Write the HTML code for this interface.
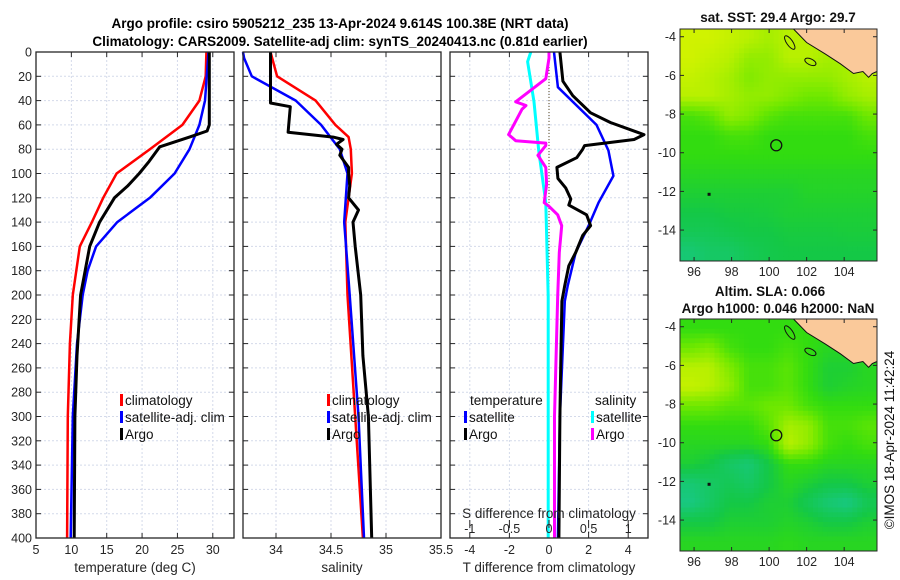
<!DOCTYPE html>
<html><head><meta charset="utf-8"><style>
html,body{margin:0;padding:0;background:#fff;}
svg{display:block;font-family:"Liberation Sans","DejaVu Sans",sans-serif;}
</style></head><body>
<svg id="fig" width="900" height="580" viewBox="0 0 900 580" xmlns="http://www.w3.org/2000/svg">
<rect width="900" height="580" fill="#fff"/>
<text x="340" y="28" text-anchor="middle" font-weight="bold" font-size="13.5">Argo profile: csiro 5905212_235 13-Apr-2024 9.614S 100.38E (NRT data)</text>
<text x="340" y="46" text-anchor="middle" font-weight="bold" font-size="13.5">Climatology: CARS2009. Satellite-adj clim: synTS_20240413.nc (0.81d earlier)</text>
<g id="plots"></g>
</svg>
<script>
// ---- profile data ----
const depthT_clim=[0,20,40,60,80,100,120,140,160,200,240,300,400];
const temp_clim=[29.1,29.0,28.1,25.7,21.1,16.4,14.5,12.9,11.2,10.2,9.8,9.5,9.4];
const depthT_sat=[0,40,60,80,100,120,140,160,180,200,240,300,400];
const temp_sat=[29.4,28.9,28.1,26.7,24.6,21.1,16.5,13.5,12.3,11.6,10.8,10.2,9.9];
const depthT_argo=[0,60,65,70,78,90,100,110,120,140,160,200,250,300,400];
const temp_argo=[29.5,29.5,29.2,26.7,22.5,21.0,19.6,18.0,16.1,14.0,12.6,11.3,10.8,10.5,10.4];
const depthS_clim=[0,20,40,60,70,80,100,140,200,300,400];
const sal_clim=[33.95,34.01,34.36,34.54,34.66,34.68,34.69,34.63,34.65,34.72,34.79];
const depthS_sat=[0,5,20,40,60,80,100,140,200,300,400];
const sal_sat=[33.70,33.71,33.78,34.18,34.41,34.58,34.65,34.62,34.67,34.75,34.80];
const depthS_argo=[0,42,45,66,70,72,76,80,85,90,95,100,110,120,130,140,160,200,250,300,400];
const sal_argo=[33.95,33.95,34.13,34.11,34.52,34.61,34.55,34.60,34.58,34.62,34.66,34.66,34.67,34.66,34.75,34.70,34.72,34.77,34.79,34.84,34.87];
const depthDT_sat=[0,29,60,81,102,124,143,165,192,205,300,400];
const dT_sat=[0.25,0.45,2.4,3.0,3.25,2.5,2.0,1.35,0.95,0.8,0.55,0.45];
const depthDT_argo=[0,24,36,50,58,68,72,77,80,87,95,104,112,121,126,134,143,151,165,176,192,205,250,300,400];
const dT_argo=[0.55,0.7,1.2,2.1,3.1,4.8,4.3,1.8,1.7,1.4,0.4,0.45,0.85,1.1,1.0,1.9,2.1,1.7,1.35,1.0,0.8,0.65,0.6,0.55,0.5];
const depthDS_sat=[0,8,41,81,124,201,400];
const dS_sat=[-0.23,-0.27,-0.19,-0.13,-0.04,-0.01,-0.01];
const depthDS_argo=[0,5,22,41,44,47,68,73,75,77,85,95,109,124,127,134,143,165,201,300,400];
const dS_argo=[0.0,0.0,-0.04,-0.42,-0.29,-0.34,-0.51,-0.42,-0.04,-0.04,-0.14,-0.04,-0.03,-0.06,0.0,0.11,0.16,0.13,0.11,0.07,0.07];
const depthTicks=[0,20,40,60,80,100,120,140,160,180,200,220,240,260,280,300,320,340,360,380,400];
const tempTicks=[5,10,15,20,25,30];
const salTicks=[34,34.5,35,35.5];
const dTTicks=[-4,-2,0,2,4];
const dSTicks=[-1,-0.5,0,0.5,1];
// ---- map data (rows lat -4..-15, cols lon) ----
const sstGrid=[
[.9,.9,.85,.8,.75,.8,.8,.8,.8,.8],
[.9,.85,.8,.7,.7,.8,.8,.75,.75,.8],
[.85,.8,.75,.65,.7,.7,.7,.7,.75,.8],
[.8,.8,.75,.7,.7,.65,.6,.6,.7,.75],
[.5,.55,.7,.65,.55,.5,.5,.5,.5,.6],
[.45,.45,.5,.5,.45,.45,.45,.45,.45,.5],
[.45,.45,.45,.45,.45,.45,.45,.45,.45,.45],
[.4,.4,.4,.4,.4,.4,.4,.4,.4,.4],
[.35,.35,.35,.35,.35,.35,.38,.38,.38,.38],
[.3,.3,.32,.32,.33,.35,.35,.35,.35,.35],
[.25,.25,.28,.3,.3,.32,.32,.32,.33,.33],
[.15,.2,.2,.25,.28,.3,.3,.3,.3,.3]];
const slaGrid=[
[.45,.45,.45,.45,.45,.45,.45,.45,.4,.4],
[.6,.65,.5,.45,.45,.5,.45,.4,.4,.4],
[.8,.8,.65,.5,.5,.55,.45,.35,.35,.4],
[.85,.8,.7,.5,.5,.55,.45,.35,.38,.4],
[.6,.6,.55,.55,.6,.6,.5,.45,.45,.45],
[.45,.45,.45,.45,.55,.75,.7,.5,.5,.55],
[.4,.4,.4,.4,.45,.8,.7,.5,.45,.5],
[.35,.3,.2,.15,.3,.45,.45,.4,.4,.4],
[.15,.2,.25,.2,.3,.4,.35,.3,.3,.35],
[.1,.2,.3,.3,.35,.35,.25,.15,.1,.25],
[.3,.3,.35,.35,.35,.38,.35,.3,.3,.35],
[.4,.4,.4,.4,.4,.42,.4,.4,.4,.4]];
const landLon=[101.3,102,103,103.8,104.5,105,105.3,105.5,105.75,105.75];
const landLat=[-3.6,-4.3,-4.9,-5.4,-5.9,-5.8,-6.1,-5.9,-5.8,-3.6];
const lonTicks=[96,98,100,102,104];
const latTicks=[-4,-6,-8,-10,-12,-14];
const floatLon=100.38, floatLat=-9.614;

const NS="http://www.w3.org/2000/svg";
const root=document.getElementById('plots');
function el(tag,attrs,parent,txt){const e=document.createElementNS(NS,tag);for(const k in attrs)e.setAttribute(k,attrs[k]);if(txt!==undefined)e.textContent=txt;(parent||root).appendChild(e);return e;}
const Y0=52,Y1=538;
const yD=d=>Y0+(d/400)*(Y1-Y0);
function lin(d0,d1,r0,r1){return v=>r0+(v-d0)/(d1-d0)*(r1-r0);}

function panel(name,x0,x1,xs,ticks,fmt,showY){
  const g=el('g',{});
  
  
  ticks.forEach(t=>{const x=xs(t);if(x>x0+1&&x<x1-1){el('line',{x1:x,y1:Y0,x2:x,y2:Y1,stroke:'#d4daea','stroke-width':1,'stroke-dasharray':'2,2'},g);}});
  depthTicks.forEach(d=>{const y=yD(d);if(d>0&&d<400)el('line',{x1:x0,y1:y,x2:x1,y2:y,stroke:'#d4daea','stroke-width':1,'stroke-dasharray':'2,2'},g);
    el('line',{x1:x0,y1:y,x2:x0+5,y2:y,stroke:'#262626'},g);el('line',{x1:x1,y1:y,x2:x1-5,y2:y,stroke:'#262626'},g);
    if(showY){const t=el('text',{x:x0-4,y:y+4.5,'text-anchor':'end','font-size':12.5,fill:'#262626'},g,String(d));}});
  ticks.forEach(t=>{const x=xs(t);el('line',{x1:x,y1:Y1,x2:x,y2:Y1-5,stroke:'#262626'},g);el('line',{x1:x,y1:Y0,x2:x,y2:Y0+5,stroke:'#262626'},g);
    if(fmt){const tx=el('text',{x:x,y:Y1+16,'text-anchor':'middle','font-size':12.5,fill:'#262626'},g,fmt(t));}});
  return g;
}
function frame(x0,x1){el('rect',{x:x0,y:Y0,width:x1-x0,height:Y1-Y0,fill:'none',stroke:'#262626','stroke-width':1.3});}
function line(depths,vals,xs,color,w,name){
  const pts=depths.map((d,i)=>xs(vals[i]).toFixed(1)+','+yD(d).toFixed(1)).join(' ');
  const p=el('polyline',{points:pts,fill:'none',stroke:color,'stroke-width':w,'stroke-linejoin':'round'});
  
  
}
function legendItem(x,y,color,label,name){
  const g=el('g',{});
  
  
  el('rect',{x:x,y:y-11,width:3,height:12,fill:color},g);
  el('text',{x:x+5,y:y,'font-size':13.5,fill:'#111'},g,label);
}
function xlabel(x,y,txt,name){const t=el('text',{x:x,y:y,'text-anchor':'middle','font-size':13.5,fill:'#262626'},root,txt);}

// Panel 1 temperature
const xT=lin(5,33,36,234);
panel('temperature-panel',36,234,xT,tempTicks,String,true);
line(depthT_clim,temp_clim,xT,'#ff0000',2.5,'temp-climatology-line');
line(depthT_sat,temp_sat,xT,'#0000ff',2.5,'temp-satellite-line');
line(depthT_argo,temp_argo,xT,'#000000',3,'temp-argo-line');
frame(36,234);
legendItem(120,405,'#ff0000','climatology','legend-climatology');
legendItem(120,422,'#0000ff','satellite-adj. clim','legend-satellite');
legendItem(120,439,'#000000','Argo','legend-argo');
xlabel(135,572,'temperature (deg C)','x-axis-title-temperature');

// Panel 2 salinity
const xS=lin(33.7,35.5,243,441);
panel('salinity-panel',243,441,xS,salTicks,t=>String(t),false);
line(depthS_clim,sal_clim,xS,'#ff0000',2.5,'sal-climatology-line');
line(depthS_sat,sal_sat,xS,'#0000ff',2.5,'sal-satellite-line');
line(depthS_argo,sal_argo,xS,'#000000',3,'sal-argo-line');
frame(243,441);
legendItem(327,405,'#ff0000','climatology','legend-climatology-2');
legendItem(327,422,'#0000ff','satellite-adj. clim','legend-satellite-2');
legendItem(327,439,'#000000','Argo','legend-argo-2');
xlabel(342,572,'salinity','x-axis-title-salinity');

// Panel 3 differences
const xDT=lin(-5,5,450,648), xDS=lin(-1.25,1.25,450,648);
panel('difference-panel',450,648,xDT,dTTicks,String,false);
el('line',{x1:xDT(0),y1:Y0,x2:xDT(0),y2:Y1,stroke:'#554422','stroke-width':1,'stroke-dasharray':'1,2'});
line(depthDS_sat,dS_sat,xDS,'#00ffff',3,'sdiff-satellite-line');
line(depthDS_argo,dS_argo,xDS,'#ff00ff',3,'sdiff-argo-line');
line(depthDT_sat,dT_sat,xDT,'#0000ff',2.5,'tdiff-satellite-line');
line(depthDT_argo,dT_argo,xDT,'#000000',3,'tdiff-argo-line');
frame(450,648);
(function(){const t=el('text',{x:470,y:405,'font-size':13.5,fill:'#111'},root,'temperature');
 const s=el('text',{x:595,y:405,'font-size':13.5,fill:'#111'},root,'salinity');})();
legendItem(464,422,'#0000ff','satellite','legend-t-satellite');
legendItem(464,439,'#000000','Argo','legend-t-argo');
legendItem(591,422,'#00ffff','satellite','legend-s-satellite');
legendItem(591,439,'#ff00ff','Argo','legend-s-argo');
xlabel(549,518,'S difference from climatology','s-axis-title');
dSTicks.forEach(t=>{const tx=el('text',{x:xDS(t),y:533,'text-anchor':'middle','font-size':12.5,fill:'#262626'},root,String(t));
 el('line',{x1:xDS(t),y1:520,x2:xDS(t),y2:528,stroke:'#262626','stroke-width':1});});
xlabel(549,572,'T difference from climatology','t-axis-title');

// Maps
function cmap(v){
 const st=[[0,[26,200,160]],[0.3,[20,200,70]],[0.45,[50,220,16]],[0.6,[110,232,0]],[0.8,[184,240,0]],[1,[232,245,0]]];
 v=Math.max(0,Math.min(1,v));
 for(let i=1;i<st.length;i++){if(v<=st[i][0]){const a=st[i-1],b=st[i],f=(v-a[0])/(b[0]-a[0]);return 'rgb('+a[1].map((c,k)=>Math.round(c+f*(b[1][k]-c))).join(',')+')';}}
 return 'rgb(232,245,0)';
}
function sample(grid,fr,fc){
 const rows=grid.length, cols=grid[0].length;
 fr=Math.max(0,Math.min(rows-1,fr)); fc=Math.max(0,Math.min(cols-1,fc));
 const r0=Math.floor(fr), c0=Math.floor(fc), r1=Math.min(rows-1,r0+1), c1=Math.min(cols-1,c0+1);
 const a=fr-r0, b=fc-c0;
 return grid[r0][c0]*(1-a)*(1-b)+grid[r0][c1]*(1-a)*b+grid[r1][c0]*a*(1-b)+grid[r1][c1]*a*b;
}
function map(name,top,bottom,grid){
 const L=680,R=877;
 const lx=lin(95.25,105.75,L,R), ly=lin(-3.6,-15.6,top,bottom);
 const g=el('g',{});
 
 
 const rows=grid.length, cols=grid[0].length, sub=4;
 const cw=(R-L)/(cols*sub), ch=(bottom-top)/(rows*sub);
 for(let r=0;r<rows*sub;r++)for(let c=0;c<cols*sub;c++){
   const v=sample(grid,(r+0.5)/sub-0.5,(c+0.5)/sub-0.5);
   const cell=el('rect',{x:(L+c*cw).toFixed(2),y:(top+r*ch).toFixed(2),width:(cw+0.5).toFixed(2),height:(ch+0.5).toFixed(2),fill:cmap(v)},g);
   
   
 }
 const pts=landLon.map((lo,i)=>lx(lo).toFixed(1)+','+ly(landLat[i]).toFixed(1)).join(' ');
 const land=el('polygon',{points:pts,fill:'#fac99a',stroke:'#111','stroke-width':1},g);
 
 
 el('ellipse',{cx:lx(101.1),cy:ly(-4.3),rx:3,ry:8,transform:'rotate(-35 '+lx(101.1)+' '+ly(-4.3)+')',fill:'none',stroke:'#111'},g);
 el('ellipse',{cx:lx(102.2),cy:ly(-5.3),rx:6,ry:3,transform:'rotate(25 '+lx(102.2)+' '+ly(-5.3)+')',fill:'none',stroke:'#111'},g);
 el('rect',{x:lx(96.8)-1.5,y:ly(-12.15)-1.5,width:3,height:3,fill:'#111'},g);
 const m=el('circle',{cx:lx(floatLon),cy:ly(floatLat),r:5.5,fill:'none',stroke:'#111','stroke-width':1.3},g);
 
 
 el('rect',{x:L,y:top,width:R-L,height:bottom-top,fill:'none',stroke:'#262626','stroke-width':1},g);
 lonTicks.forEach(t=>{const x=lx(t);el('line',{x1:x,y1:bottom,x2:x,y2:bottom-4,stroke:'#262626'},g);el('line',{x1:x,y1:top,x2:x,y2:top+4,stroke:'#262626'},g);
   const tx=el('text',{x:x,y:bottom+15,'text-anchor':'middle','font-size':12.5,fill:'#262626'},g,String(t));});
 latTicks.forEach(t=>{const y=ly(t);el('line',{x1:L,y1:y,x2:L+4,y2:y,stroke:'#262626'},g);el('line',{x1:R,y1:y,x2:R-4,y2:y,stroke:'#262626'},g);
   const tx=el('text',{x:L-4,y:y+4.5,'text-anchor':'end','font-size':12.5,fill:'#262626'},g,String(t));});
}
map('sst-map',29,261,sstGrid);
map('sla-map',319,551,slaGrid);
function title(x,y,txt,name){const t=el('text',{x:x,y:y,'text-anchor':'middle','font-weight':'bold','font-size':13.5,fill:'#111'},root,txt);}
title(778,22,'sat. SST: 29.4 Argo: 29.7','sst-map-title');
title(770,296,'Altim. SLA: 0.066','sla-map-title-1');
title(778,313,'Argo h1000: 0.046 h2000: NaN','sla-map-title-2');
(function(){const t=el('text',{x:0,y:0,'text-anchor':'middle','font-size':13.5,fill:'#111',transform:'translate(894,440) rotate(-90)'},root,'©IMOS 18-Apr-2024 11:42:24');})();
</script>
</body></html>
